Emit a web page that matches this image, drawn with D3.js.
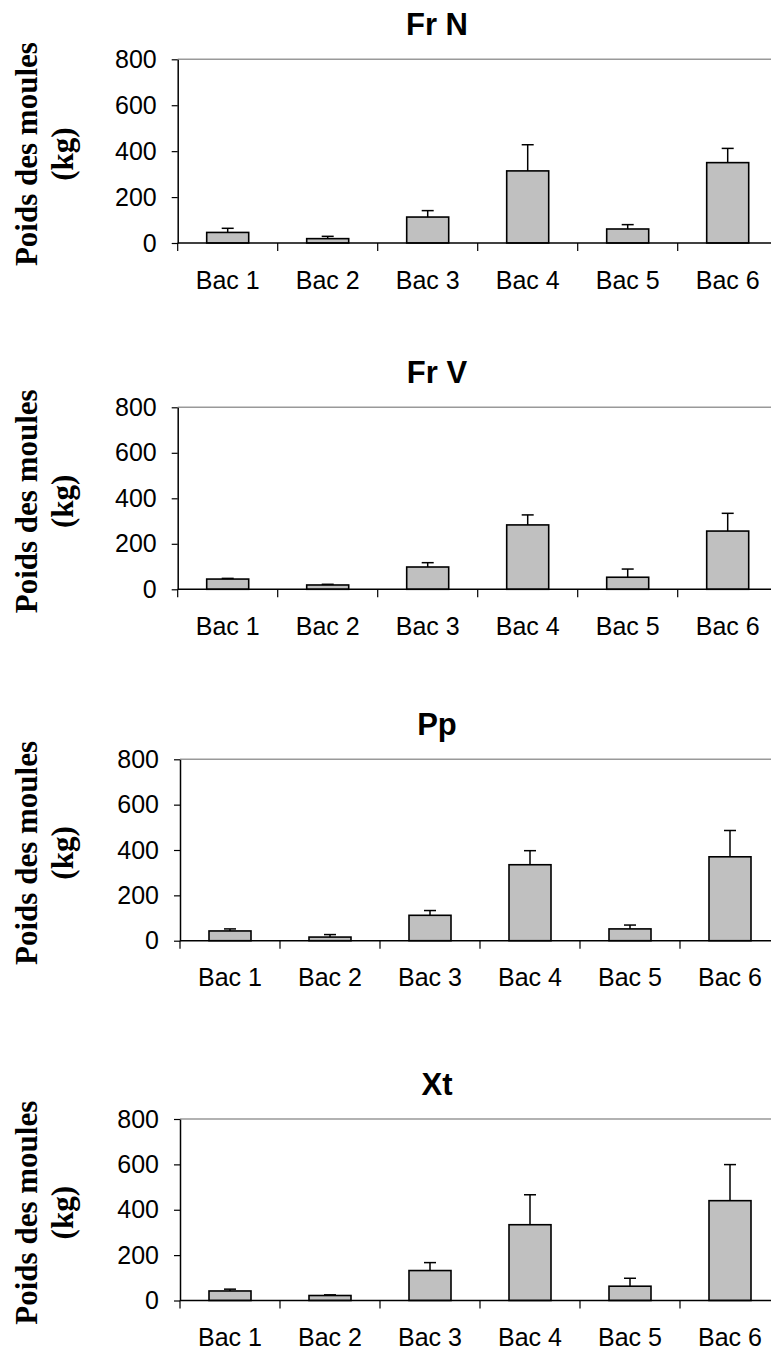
<!DOCTYPE html>
<html>
<head>
<meta charset="utf-8">
<script src="https://cdn.jsdelivr.net/npm/d3@7"></script>
<style>
  body { margin: 0; background: #fff; }
  svg { display: block; }
</style>
</head>
<body>
<div id="chart"></div>
<script>
// data
var categories = ['Bac 1', 'Bac 2', 'Bac 3', 'Bac 4', 'Bac 5', 'Bac 6'];
var panelTitles = ['Fr N', 'Fr V', 'Pp', 'Xt'];
var yTicks = [0, 200, 400, 600, 800];

var frN = [46, 19, 113, 314, 61, 350];
var frNErr = [18, 10, 28, 114, 19, 62];
var frV = [45, 19, 98, 283, 53, 256];
var frVErr = [3, 3, 19, 44, 36, 78];
var pp = [43, 16, 112, 335, 52, 370];
var ppErr = [9, 11, 21, 62, 17, 116];
var xt = [42, 22, 132, 334, 63, 440];
var xtErr = [8, 3, 35, 132, 35, 159];

var series = [[frN, frNErr], [frV, frVErr], [pp, ppErr], [xt, xtErr]];

// where each panel sits on the page
var layout = [
  { left: 177.7, top: 59.3, bottom: 243 },
  { left: 177.7, top: 407.3, bottom: 589.3 },
  { left: 180, top: 759.3, bottom: 940.7 },
  { left: 180, top: 1119, bottom: 1300.5 }
];

var width = 771, height = 1353;
var sans = 'Arial, "Liberation Sans", sans-serif';
var serif = '"Times New Roman", "Liberation Serif", serif';

var svg = d3.select('#chart')
  .append('svg')
  .attr('width', width)
  .attr('height', height);

series.forEach(function(s, i) {
  var box = layout[i];
  var values = s[0], errs = s[1];

  var x = d3.scaleBand()
    .domain(categories)
    .range([box.left, box.left + 600])
    .paddingInner(0.58)
    .paddingOuter(0.29);

  var y = d3.scaleLinear()
    .domain([0, 800])
    .range([box.bottom, box.top]);

  var g = svg.append('g');

  // top frame line (grey)
  g.append('line')
    .attr('x1', box.left).attr('x2', width)
    .attr('y1', y(800)).attr('y2', y(800))
    .attr('stroke', '#999').attr('stroke-width', 1.5);

  // bars
  g.selectAll('rect.bar')
    .data(values)
    .enter()
    .append('rect')
    .attr('class', 'bar')
    .attr('x', function(d, j) { return x(categories[j]); })
    .attr('y', function(d) { return y(d); })
    .attr('width', x.bandwidth())
    .attr('height', function(d) { return y(0) - y(d); })
    .attr('fill', '#c0c0c0')
    .attr('stroke', '#000')
    .attr('stroke-width', 1.6);

  // error bars (upper only)
  var eb = g.selectAll('g.err')
    .data(values)
    .enter()
    .append('g')
    .attr('class', 'err');
  eb.append('line')
    .attr('x1', function(d, j) { return x(categories[j]) + x.bandwidth() / 2; })
    .attr('x2', function(d, j) { return x(categories[j]) + x.bandwidth() / 2; })
    .attr('y1', function(d) { return y(d); })
    .attr('y2', function(d, j) { return y(d + errs[j]); })
    .attr('stroke', '#000').attr('stroke-width', 1.5);
  eb.append('line')
    .attr('x1', function(d, j) { return x(categories[j]) + x.bandwidth() / 2 - 6; })
    .attr('x2', function(d, j) { return x(categories[j]) + x.bandwidth() / 2 + 6; })
    .attr('y1', function(d, j) { return y(d + errs[j]); })
    .attr('y2', function(d, j) { return y(d + errs[j]); })
    .attr('stroke', '#000').attr('stroke-width', 1.5);

  // x axis line and category separators
  g.append('line')
    .attr('x1', box.left).attr('x2', width)
    .attr('y1', y(0)).attr('y2', y(0))
    .attr('stroke', '#000').attr('stroke-width', 1.5);
  var step = x.step();
  g.selectAll('line.sep')
    .data(d3.range(categories.length + 1))
    .enter()
    .append('line')
    .attr('class', 'sep')
    .attr('x1', function(k) { return box.left + k * step; })
    .attr('x2', function(k) { return box.left + k * step; })
    .attr('y1', y(0)).attr('y2', y(0) + 8)
    .attr('stroke', '#000').attr('stroke-width', 1.2);

  var xAxis = g.append('g')
    .attr('transform', 'translate(0,' + y(0) + ')')
    .call(d3.axisBottom(x).tickSize(0).tickPadding(28));
  xAxis.select('.domain').remove();
  xAxis.selectAll('text')
    .attr('font-family', sans).attr('font-size', 25).attr('fill', '#000');

  // y axis
  var yAxis = g.append('g')
    .attr('transform', 'translate(' + box.left + ',0)')
    .call(d3.axisLeft(y).tickValues(yTicks).tickSize(6).tickSizeOuter(0).tickPadding(15));
  yAxis.select('.domain').attr('stroke', '#000').attr('stroke-width', 1.5);
  yAxis.selectAll('.tick line').attr('stroke', '#000').attr('stroke-width', 1.2);
  yAxis.selectAll('text')
    .attr('font-family', sans).attr('font-size', 25).attr('fill', '#000');

  // panel title
  g.append('text')
    .attr('x', 437)
    .attr('y', box.top - 24)
    .attr('text-anchor', 'middle')
    .attr('font-family', sans)
    .attr('font-weight', 'bold')
    .attr('font-size', 31)
    .text(panelTitles[i]);

  // y axis title
  var cy = (box.top + box.bottom) / 2 + 3;
  var yt = g.append('g')
    .attr('transform', 'translate(0,' + cy + ') rotate(-90)')
    .attr('font-family', serif)
    .attr('font-weight', 'bold')
    .attr('font-size', 31)
    .attr('text-anchor', 'middle');
  yt.append('text').attr('x', 0).attr('y', 37).text('Poids des moules');
  yt.append('text').attr('x', 0).attr('y', 73).text('(kg)');
});
</script>
</body>
</html>
